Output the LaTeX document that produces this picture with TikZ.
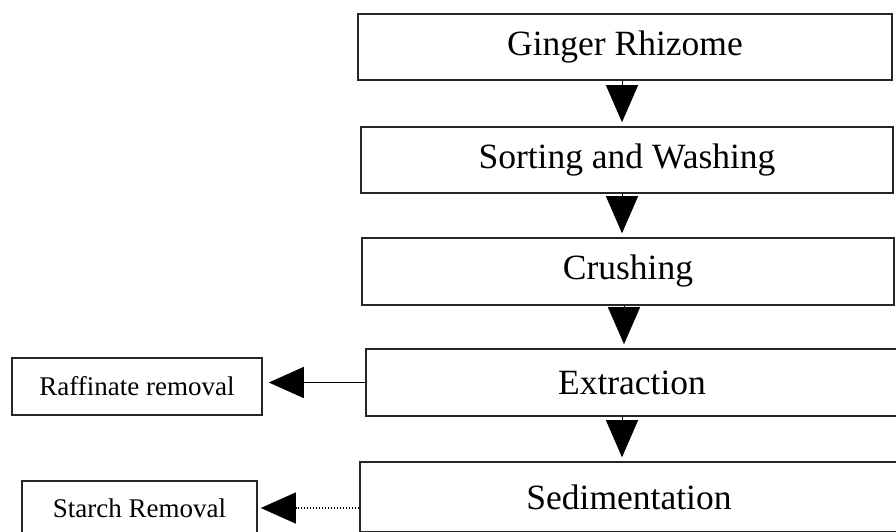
\documentclass[tikz,border=0pt]{standalone}
\usepackage{fontspec}
\setmainfont{Liberation Serif}
\usetikzlibrary{arrows.meta}
\begin{document}
\begin{tikzpicture}[x=1pt,y=-1pt,
  stepbox/.style={draw=black!85, line width=1.6pt, fill=white, inner sep=0pt, font=\fontsize{35.5}{40}\selectfont},
  sidebox/.style={draw=black!85, line width=1.6pt, fill=white, inner sep=0pt, font=\fontsize{27}{32}\selectfont},
  flow/.style={line width=1pt, -{Triangle[length=37pt,width=32pt]}, shorten >=4pt},
  side/.style={line width=1.2pt, -{Triangle[length=35pt,width=31pt]}}
]
\useasboundingbox (0,0) rectangle (896,531);
\fill[white] (0,0) rectangle (896,531);

\node[stepbox, minimum width=534pt, minimum height=66pt] (g) at (625,47) {Ginger Rhizome};
\node[stepbox, minimum width=532pt, minimum height=66pt] (s) at (627,160) {Sorting and Washing};
\node[stepbox, minimum width=532pt, minimum height=67pt] (c) at (628,271.5) {Crushing};
\node[stepbox, minimum width=532pt, minimum height=67pt] (e) at (632,382.5) {Extraction};
\node[stepbox, minimum width=538pt, minimum height=70pt] (d) at (629,497) {Sedimentation};

\node[sidebox, minimum width=250pt, minimum height=57pt] (r) at (137,386.5) {Raffinate removal};
\node[sidebox, minimum width=235pt, minimum height=54pt] (t) at (139.5,508) {Starch Removal};

\draw[flow] ([xshift=-3pt]g.south) -- ([xshift=-5pt]s.north);
\draw[flow] ([xshift=-5pt]s.south) -- ([xshift=-6pt]c.north);
\draw[flow] ([xshift=-4pt]c.south) -- ([xshift=-8pt]e.north);
\draw[flow] ([xshift=-10pt]e.south) -- ([xshift=-7pt]d.north);

\draw[side, shorten >=6pt] (e.west) -- (r.east |- e.west);
\draw[side, shorten >=3pt, dash pattern=on 1.5pt off 1.5pt] (d.west |- t.east) -- (t.east);
\end{tikzpicture}
\end{document}
